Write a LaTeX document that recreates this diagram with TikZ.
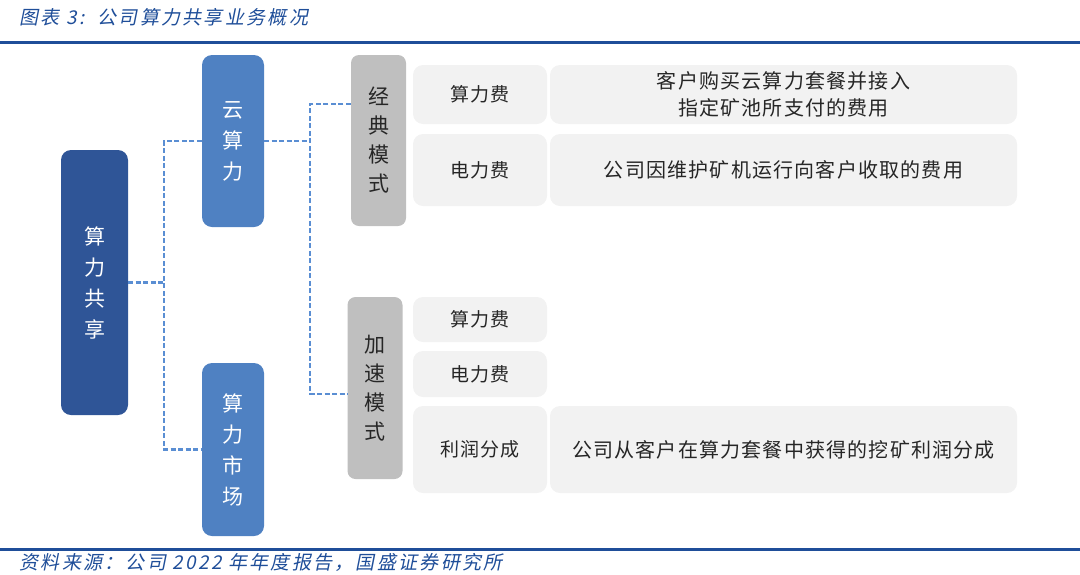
\documentclass[tikz,border=0pt]{standalone}
\usepackage{fontspec}
\setmainfont{Noto Sans CJK SC}[LetterSpace=6]
\newfontfamily\cjkit[FakeSlant=0.2, LetterSpace=12]{Noto Sans CJK SC}
\definecolor{rulecol}{HTML}{1F4E99}
\definecolor{darkbox}{HTML}{2F5597}
\definecolor{midbox}{HTML}{4F81C2}
\definecolor{linkcol}{HTML}{5A8ED3}
\definecolor{greybox}{HTML}{BFBFBF}
\definecolor{lightbox}{HTML}{F2F2F2}
\definecolor{txtcol}{HTML}{262626}
\tikzset{
    rootbox/.style={fill=darkbox, rounded corners=10pt, text=white, inner sep=0pt, align=center,
        font=\fontsize{21}{31}\selectfont},
    subbox/.style={fill=midbox, rounded corners=10pt, text=white, inner sep=0pt, align=center,
        font=\fontsize{21}{31}\selectfont},
    modebox/.style={fill=greybox, rounded corners=8pt, text=txtcol, inner sep=0pt, align=center,
        minimum width=55pt, font=\fontsize{21}{29}\selectfont},
    feebox/.style={fill=lightbox, rounded corners=10pt, text=txtcol, inner sep=0pt, align=center,
        minimum width=134pt, font=\fontsize{19}{27}\selectfont},
    descbox/.style={fill=lightbox, rounded corners=10pt, text=txtcol, inner sep=0pt, align=center,
        minimum width=467pt, font=\fontsize{20}{27}\selectfont},
    link/.style={draw=linkcol, line width=2.2pt, dash pattern=on 5pt off 2.5pt}
}
\begin{document}
\begin{tikzpicture}[x=1pt, y=-1pt]
    \useasboundingbox (0,0) rectangle (1080,574);
    % title and rules
    \node[anchor=west, text=rulecol, font=\cjkit\fontsize{19}{19}\selectfont] (title) at (16,17) {图表 3:\ \ 公司算力共享业务概况};
    \draw[rulecol, line width=3pt] (0,42) -- (1080,42);
    \draw[rulecol, line width=3pt] (0,549) -- (1080,549);
    \node[anchor=west, text=rulecol, font=\cjkit\fontsize{19}{19}\selectfont] (source) at (16,562) {资料来源：公司 2022 年年度报告，国盛证券研究所};
    % tree
    \node[rootbox, minimum width=67pt, minimum height=265pt] (share) at (94.5,282.5) {算\\力\\共\\享};
    \node[subbox, minimum width=62pt, minimum height=172pt] (yun) at (233,141) {云\\算\\力};
    \node[subbox, minimum width=62pt, minimum height=173pt] (market) at (233,449.5) {算\\力\\市\\场};
    \node[modebox, minimum height=171pt] (classic) at (378.5,140.5) {经\\典\\模\\式};
    \node[modebox, minimum height=182pt] (boost) at (375,388) {加\\速\\模\\式};
    % fee rows
    \node[feebox, minimum height=59pt] (feeA) at (480,94.5) {算力费};
    \node[descbox, minimum height=59pt] (descA) at (783.5,94.5) {客户购买云算力套餐并接入\\指定矿池所支付的费用};
    \node[feebox, minimum height=72pt] (powerA) at (480,170) {电力费};
    \node[descbox, minimum height=72pt] (descB) at (783.5,170) {公司因维护矿机运行向客户收取的费用};
    \node[feebox, minimum height=45pt] (feeB) at (480,319.5) {算力费};
    \node[feebox, minimum height=46pt] (powerB) at (480,374) {电力费};
    \node[feebox, minimum height=87pt] (profit) at (480,449.5) {利润分成};
    \node[descbox, minimum height=87pt] (descC) at (783.5,449.5) {公司从客户在算力套餐中获得的挖矿利润分成};
    % connectors
    \draw[link] (share.east) -- ++(36,0) coordinate (splitA);
    \draw[link] (yun.west) -| (splitA) |- (market.west);
    \draw[link] (yun.east) -- ++(46,0) coordinate (splitB);
    \draw[link] ([yshift=36.5pt]classic.west) -| (splitB) |- ([yshift=-6pt]boost.west);
\end{tikzpicture}
\end{document}
